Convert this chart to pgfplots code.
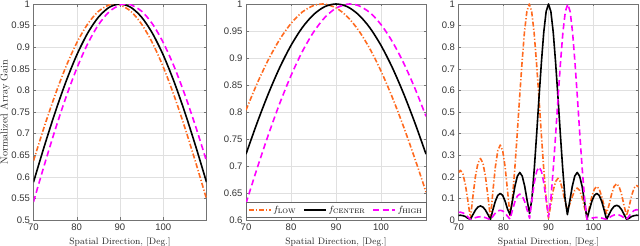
\documentclass[border=0pt]{standalone}
\usepackage{fontspec}
\usepackage{pgfplots}
\pgfplotsset{compat=1.18}
\newfontfamily\tickfont{Liberation Sans}
\definecolor{cLow}{HTML}{FF6A1F}
\definecolor{cHigh}{HTML}{FF00FF}

\pgfplotsset{
  mystyle/.style={
    scale only axis, height=216pt, xmin=70, xmax=110,
    xtick={70,80,90,100},
    grid=major, major grid style={black!12, line width=0.4pt},
    axis line style={black!55, line width=0.6pt},
    tick style={black!55, line width=0.5pt}, tick align=inside, major tick length=2.5pt,
    ticklabel style={font=\tickfont\fontsize{9.5}{10}\selectfont, text=black!80},
    /pgf/number format/assume math mode=true,
    yticklabel style={/pgf/number format/fixed, /pgf/number format/precision=2},
    xlabel={Spatial Direction, [Deg.]},
    xlabel style={font=\fontsize{9.3}{10}\selectfont, text=black!85},
    every axis plot/.append style={line width=1.6pt, line join=round},
    anchor=south west,
  },
  lowstyle/.style={cLow, dash pattern=on 5pt off 2pt on 1.2pt off 2pt},
  censtyle/.style={black},
  highstyle/.style={cHigh, dash pattern=on 6pt off 3.5pt},
}

\begin{document}
\begin{tikzpicture}[x=1pt,y=1pt]
\useasboundingbox (0,0) rectangle (640,246);

% ---------------- Panel 1 ----------------
\begin{axis}[mystyle, at={(33.5pt,26pt)}, width=173pt,
  ymin=0.5, ymax=1, ytick={0.5,0.55,0.6,0.65,0.7,0.75,0.8,0.85,0.9,0.95,1},
  ylabel={Normalized Array Gain},
  every axis y label/.style={at={(axis description cs:-0.1647,0.5)}, rotate=90,
    anchor=center, font=\fontsize{10.2}{11}\selectfont, text=black!85}]
\addplot[lowstyle, smooth] table {
70 .6369
72.5 .7162
75 .7895
77.5 .8549
80 .9100
82.5 .9532
85 .9829
87.5 .9981
88.76 1.0
90 .9981
92.5 .9831
95 .9533
97.5 .9099
100 .8543
102.5 .7882
105 .7137
107.5 .6332
110 .5488
};
\addplot[censtyle, smooth] table {
70 .5877
72.5 .6707
75 .7490
77.5 .8201
80 .8818
82.5 .9321
85 .9694
87.5 .9923
90 1.0
92.5 .9923
95 .9694
97.5 .9321
100 .8818
102.5 .8201
105 .7490
107.5 .6707
110 .5877
};
\addplot[highstyle, smooth] table {
70 .5420
72.5 .6271
75 .7085
77.5 .7838
80 .8508
82.5 .9074
85 .9517
87.5 .9822
90 .9979
91.32 1.0
92.5 .9983
95 .9834
97.5 .9539
100 .9107
102.5 .8555
105 .7899
107.5 .7161
110 .6365
};
\end{axis}

% ---------------- Panel 2 ----------------
\begin{axis}[mystyle, at={(246pt,26pt)}, width=180pt,
  ymin=0.6, ymax=1, ytick={0.6,0.65,0.7,0.75,0.8,0.85,0.9,0.95,1},
  legend columns=3,
  legend style={at={(0.5,0.012)}, anchor=south, draw=black!60, line width=0.5pt,
    fill=white, font=\fontsize{9.3}{10}\selectfont, inner sep=1.5pt,
    /tikz/every even column/.append style={column sep=5pt}},
  legend image code/.code={\draw[#1, line width=1.6pt] (0pt,0pt) -- (22pt,0pt);}]
\addplot[lowstyle, smooth] table {
70 .8036
72.5 .8533
75 .8973
77.5 .9345
80 .9640
82.5 .9851
85 .9971
86.95 1.0
87.5 .9998
90 .9929
92.5 .9766
95 .9513
97.5 .9174
100 .8758
102.5 .8273
105 .7731
107.5 .7142
110 .6518
};
\addlegendentry{$f_{\mathrm{LOW}}$}
\addplot[censtyle, smooth] table {
70 .7220
72.5 .7806
75 .8345
77.5 .8825
80 .9233
82.5 .9562
85 .9803
87.5 .9951
90 1.0
92.5 .9951
95 .9803
97.5 .9562
100 .9233
102.5 .8825
105 .8345
107.5 .7806
110 .7220
};
\addlegendentry{$f_{\mathrm{CENTER}}$}
\addplot[highstyle, smooth] table {
70 .6308
72.5 .6964
75 .7585
77.5 .8160
80 .8674
82.5 .9117
85 .9478
87.5 .9749
90 .9923
92.5 .9997
93.08 1.0
95 .9970
97.5 .9843
100 .9619
102.5 .9306
105 .8912
107.5 .8446
110 .7920
};
\addlegendentry{$f_{\mathrm{HIGH}}$}
\end{axis}

% ---------------- Panel 3 ----------------
\begin{axis}[mystyle, at={(458.5pt,26pt)}, width=180pt,
  ymin=0, ymax=1, ytick={0,0.1,0.2,0.3,0.4,0.5,0.6,0.7,0.8,0.9,1}]
\addplot[lowstyle] table {
70 .220
70.425 .230
70.981 .213
71.538 .163
72.094 .088
72.65 .008
73.206 .109
73.763 .202
74.319 .263
74.875 .285
75.431 .263
75.988 .202
76.544 .109
77.1 .008
77.644 .133
78.188 .245
78.731 .321
79.275 .347
79.819 .321
80.363 .245
80.906 .133
81.45 .020
81.984 .100
82.519 .240
83.053 .400
83.588 .570
84.122 .730
84.656 .870
85.191 .965
85.725 1.0
86.259 .965
86.794 .870
87.328 .730
87.863 .570
88.397 .400
88.931 .240
89.466 .100
90 .008
90.525 .074
91.05 .137
91.575 .178
92.1 .193
92.625 .178
93.15 .137
93.675 .085
94.2 .045
94.744 .075
95.288 .108
95.831 .137
96.375 .148
96.919 .137
97.463 .105
98.006 .057
98.55 .008
99.094 .059
99.638 .110
100.181 .143
100.725 .155
101.269 .143
101.813 .110
102.356 .065
102.9 .030
103.456 .070
104.013 .119
104.569 .155
105.125 .168
105.681 .155
106.238 .119
106.794 .066
107.35 .020
107.906 .061
108.463 .113
109.019 .148
109.575 .160
110 .153
};
\addplot[censtyle] table {
70 .021
70.425 .022
70.981 .020
71.538 .016
72.094 .008
72.65 .003
73.206 .025
73.763 .046
74.319 .060
74.875 .065
75.431 .060
75.988 .046
76.544 .025
77.1 .003
77.644 .047
78.188 .087
78.731 .114
79.275 .123
79.819 .114
80.363 .087
80.906 .050
81.45 .025
81.994 .090
82.538 .156
83.081 .203
83.625 .220
84.169 .203
84.713 .156
85.256 .090
85.8 .030
86.325 .100
86.85 .240
87.375 .400
87.9 .570
88.425 .730
88.95 .870
89.475 .965
90 1.0
90.525 .965
91.05 .870
91.575 .730
92.1 .570
92.625 .400
93.15 .240
93.675 .100
94.2 .025
94.744 .090
95.288 .156
95.831 .203
96.375 .220
96.919 .203
97.463 .156
98.006 .085
98.55 .005
99.094 .047
99.638 .087
100.181 .114
100.725 .123
101.269 .114
101.813 .087
102.356 .047
102.9 .003
103.456 .026
104.013 .048
104.569 .063
105.125 .068
105.681 .063
106.238 .048
106.794 .026
107.35 .003
107.906 .008
108.463 .016
109.019 .020
109.575 .022
110 .021
};
\addplot[highstyle] table {
70 .035
70.425 .036
70.981 .033
71.538 .026
72.094 .014
72.65 .003
73.206 .006
73.763 .011
74.319 .014
74.875 .015
75.431 .014
75.988 .011
76.544 .006
77.1 .001
77.644 .017
78.188 .032
78.731 .042
79.275 .045
79.819 .042
80.363 .032
80.906 .017
81.45 .004
81.994 .046
82.538 .085
83.081 .111
83.625 .120
84.169 .111
84.713 .085
85.256 .046
85.8 .008
86.325 .094
86.85 .173
87.375 .226
87.9 .245
88.425 .226
88.95 .173
89.475 .094
90 .015
90.534 .100
91.069 .240
91.603 .400
92.138 .570
92.672 .730
93.206 .870
93.741 .965
94.275 1.0
94.809 .965
95.344 .870
95.878 .730
96.413 .570
96.947 .400
97.481 .240
98.016 .100
98.55 .003
99.094 .006
99.638 .009
100.181 .011
100.725 .012
101.269 .011
101.813 .009
102.356 .006
102.9 .002
103.456 .010
104.013 .018
104.569 .023
105.125 .025
105.681 .023
106.238 .018
106.794 .010
107.35 .003
107.906 .018
108.463 .034
109.019 .044
109.575 .048
110 .046
};
\end{axis}
\end{tikzpicture}
\end{document}
